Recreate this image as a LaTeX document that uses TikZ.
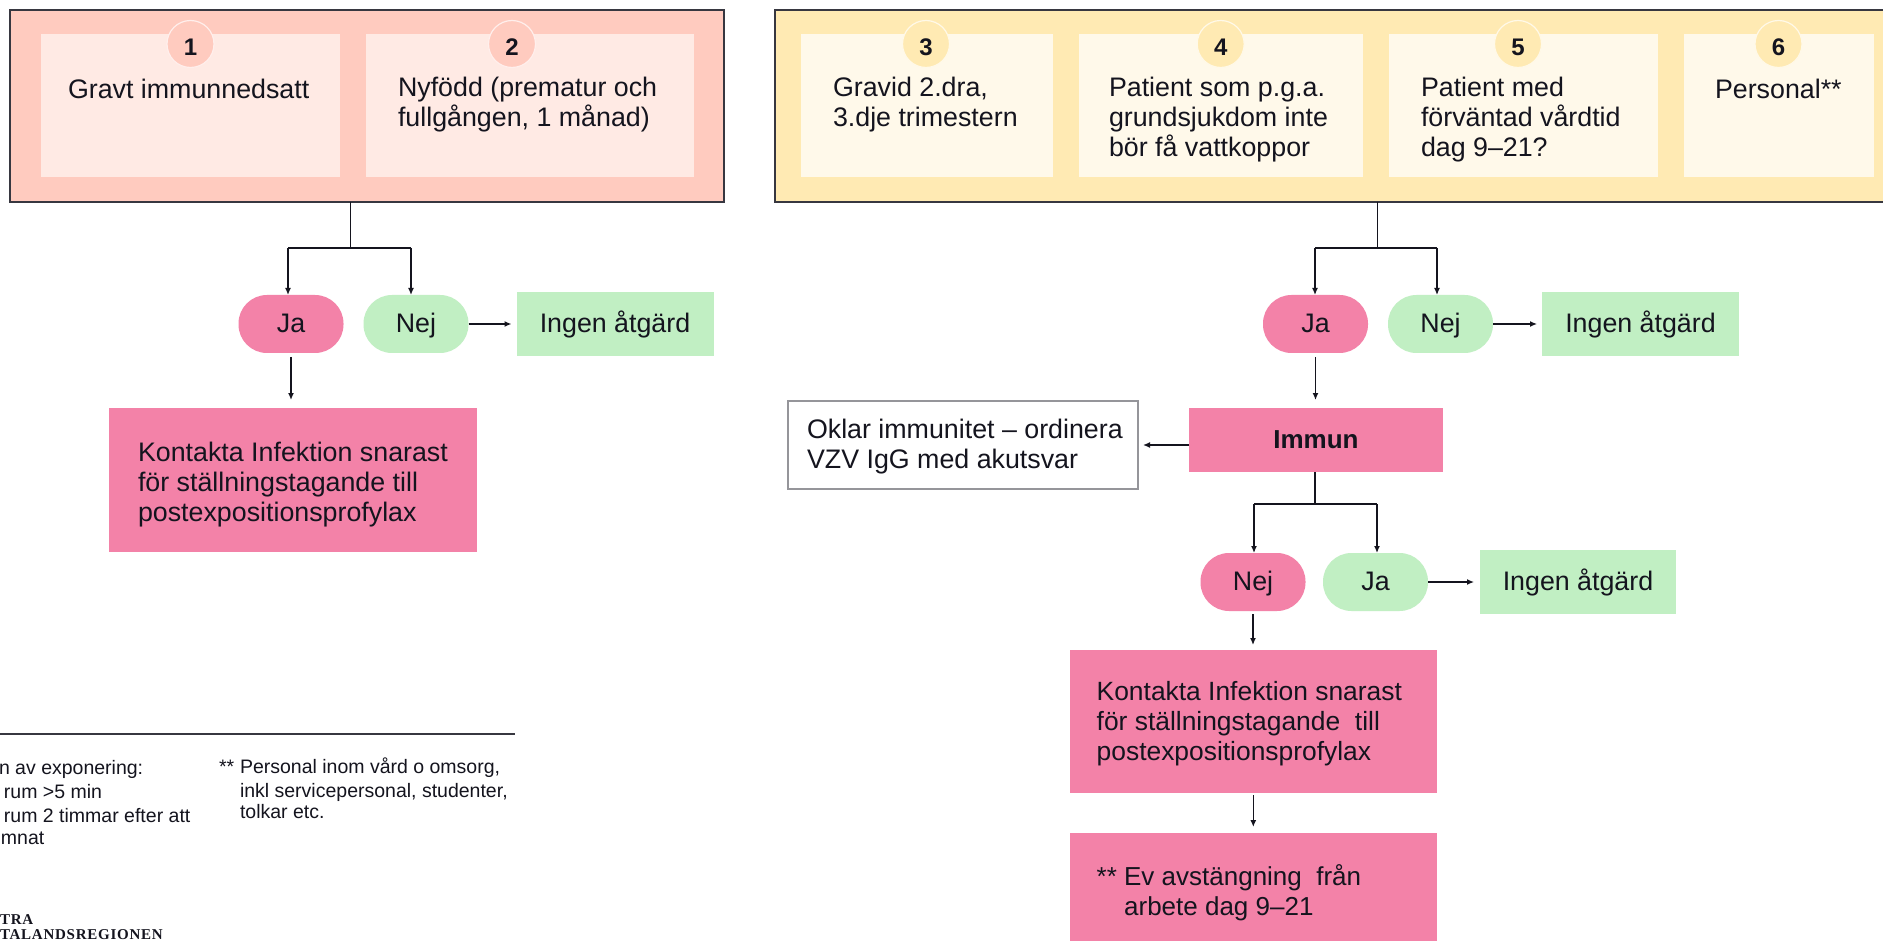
\documentclass[tikz,border=0pt]{standalone}
\usepackage{fontspec}
\setmainfont{Liberation Sans}
\newfontfamily\logofont[LetterSpace=5]{Liberation Serif}
\usetikzlibrary{arrows.meta}
\definecolor{redpanel}{HTML}{FFCBBF}
\definecolor{redcard}{HTML}{FFEAE4}
\definecolor{yellowpanel}{HTML}{FFEAB3}
\definecolor{yellowcard}{HTML}{FFF9EA}
\definecolor{alarm}{HTML}{F382A8}
\definecolor{calm}{HTML}{C1EFC3}
\definecolor{ink}{HTML}{14141E}
\tikzset{
    box/.style={inner sep=0pt, outer sep=0pt, text=ink, text height=19pt, text depth=2pt, font=\fontsize{26.8}{30}\selectfont},
    panelbox/.style={box, draw=ink!85, line width=1.5pt},
    cardbox/.style={box, minimum height=143pt},
    badge/.style={box, circle, minimum size=47pt, text height=24pt, text depth=0pt, draw=white!70!#1, line width=1.2pt, fill=#1, font=\fontsize{24}{28}\bfseries\selectfont},
    label/.style={inner sep=0pt, outer sep=0pt, text=ink, anchor=north west, align=left, font=\fontsize{26.8}{30}\selectfont, execute at begin node=\strut},
    pill/.style={box, minimum width=105pt, minimum height=58pt, rounded corners=28.5pt, fill=#1},
    action/.style={box, fill=alarm},
    noaction/.style={box, fill=calm, minimum height=64pt},
    fine/.style={inner sep=0pt, outer sep=0pt, text=ink, anchor=base west, font=\fontsize{19.5}{23}\selectfont},
    wire/.style={draw=ink, line width=1.3pt},
    flow/.style={wire, -{Latex[length=7pt,width=6pt]}},
}
\begin{document}
\begin{tikzpicture}[x=1pt, y=-1pt]
    \useasboundingbox (0,0) rectangle (1883,941);
    \fill[white] (0,0) rectangle (1883,941);

    \node[panelbox, fill=redpanel, minimum width=714pt, minimum height=192pt] (panelA) at (367,106) {};
    \node[cardbox, fill=redcard, minimum width=299pt] (card1) at (190.5,105.5) {};
    \node[cardbox, fill=redcard, minimum width=328pt] (card2) at (530,105.5) {};
    \node[badge=redpanel] (num1) at (190.5,44) {1};
    \node[badge=redpanel] (num2) at (512,44) {2};
    \node[label] (text1) at (68,77.5) {Gravt immunnedsatt};
    \node[label] (text2) at (398,77.5) {Nyfödd (prematur och\\fullgången, 1 månad)};

    \node[panelbox, fill=yellowpanel, minimum width=1130pt, minimum height=192pt] (panelB) at (1340,106) {};
    \node[cardbox, fill=yellowcard, minimum width=252.5pt] (card3) at (926.75,105.5) {};
    \node[cardbox, fill=yellowcard, minimum width=284pt] (card4) at (1220.7,105.5) {};
    \node[cardbox, fill=yellowcard, minimum width=269pt] (card5) at (1523.4,105.5) {};
    \node[cardbox, fill=yellowcard, minimum width=190pt] (card6) at (1779,105.5) {};
    \node[badge=yellowpanel] (num3) at (926,44) {3};
    \node[badge=yellowpanel] (num4) at (1220.7,44) {4};
    \node[badge=yellowpanel] (num5) at (1518,44) {5};
    \node[badge=yellowpanel] (num6) at (1778.5,44) {6};
    \node[label] (text3) at (833,77.5) {Gravid 2.dra,\\3.dje trimestern};
    \node[label] (text4) at (1109,77.5) {Patient som p.g.a.\\grundsjukdom inte\\bör få vattkoppor};
    \node[label] (text5) at (1421,77.5) {Patient med\\förväntad vårdtid\\dag 9--21?};
    \node[label] (text6) at (1715,77.5) {Personal**};

    \node[pill=alarm] (jaA) at (291,324) {Ja};
    \node[pill=calm] (nejA) at (416,324) {Nej};
    \node[noaction, minimum width=197pt] (ingenA) at (615,324) {Ingen åtgärd};
    \node[action, minimum width=368pt, minimum height=144pt] (kontaktaA) at (293,480) {};
    \node[label] (kontaktaAtext) at (138,442) {Kontakta Infektion snarast\\för ställningstagande till\\postexpositionsprofylax};

    \node[pill=alarm] (jaB) at (1315.5,324) {Ja};
    \node[pill=calm] (nejB) at (1440.5,324) {Nej};
    \node[noaction, minimum width=197pt] (ingenB) at (1640.5,324) {Ingen åtgärd};
    \node[action, minimum width=254pt, minimum height=64pt, font=\fontsize{26}{30}\bfseries\selectfont] (immun) at (1316,440) {Immun};
    \node[box, draw=ink!45, line width=1.3pt, minimum width=350pt, minimum height=88pt] (oklar) at (963,445) {};
    \node[label] (oklartext) at (807,419.5) {Oklar immunitet -- ordinera\\VZV IgG med akutsvar};
    \node[pill=alarm] (nejC) at (1253,582) {Nej};
    \node[pill=calm] (jaC) at (1375.5,582) {Ja};
    \node[noaction, minimum width=196pt] (ingenC) at (1578,582) {Ingen åtgärd};
    \node[action, minimum width=367pt, minimum height=143pt] (kontaktaB) at (1253.3,721.5) {};
    \node[label, font=\fontsize{26.4}{30}\selectfont] (kontaktaBtext) at (1096.7,681) {Kontakta Infektion snarast\\för ställningstagande\ \ till\\postexpositionsprofylax};
    \node[action, minimum width=367pt, minimum height=130pt] (avst) at (1253.3,898) {};
    \node[label, font=\fontsize{26}{30}\selectfont] (avsttext) at (1096.7,865) {** Ev avstängning\ \ från\\\phantom{** }arbete dag 9--21};

    \coordinate (forkA) at (350.5,248);
    \coordinate (forkAl) at (288,248);
    \coordinate (forkAr) at (411,248);
    \draw[wire] (panelA.south -| forkA) -- (forkA);
    \draw[wire] (forkAl) -- (forkAr);
    \draw[flow] (forkAl) -- (forkAl |- jaA.north);
    \draw[flow] (forkAr) -- (forkAr |- nejA.north);
    \draw[flow, shorten >=5pt] (nejA) -- (ingenA);
    \draw[flow, shorten <=4pt, shorten >=8pt] (jaA) -- (jaA |- kontaktaA.north);

    \coordinate (forkB) at (1377.5,248);
    \coordinate (forkBl) at (1315,248);
    \coordinate (forkBr) at (1437,248);
    \draw[wire] (panelB.south -| forkB) -- (forkB);
    \draw[wire] (forkBl) -- (forkBr);
    \draw[flow] (forkBl) -- (forkBl |- jaB.north);
    \draw[flow] (forkBr) -- (forkBr |- nejB.north);
    \draw[flow, shorten >=5pt] (nejB) -- (ingenB);
    \draw[flow, shorten <=4pt, shorten >=8pt] (jaB) -- (jaB |- immun.north);
    \draw[flow, shorten >=5pt] (immun.west |- oklar.east) -- (oklar.east);

    \coordinate (forkC) at (1315,504);
    \coordinate (forkCl) at (1254,504);
    \coordinate (forkCr) at (1377,504);
    \draw[wire] (immun.south -| forkC) -- (forkC);
    \draw[wire] (forkCl) -- (forkCr);
    \draw[flow] (forkCl) -- (forkCl |- nejC.north);
    \draw[flow] (forkCr) -- (forkCr |- jaC.north);
    \draw[flow, shorten >=6pt] (jaC) -- (ingenC);
    \draw[flow, shorten <=3pt, shorten >=5pt] (nejC) -- (nejC |- kontaktaB.north);
    \draw[flow, shorten <=2pt, shorten >=6pt] (kontaktaB.south) -- (avst.north);

    \draw[ink!85, line width=1.3pt] (0,734) -- (515,734);
    \node[fine] (note1) at (-1,774) {n av exponering:};
    \node[fine] (note2) at (4,798) {rum >5 min};
    \node[fine] (note3) at (4,822) {rum 2 timmar efter att};
    \node[fine] (note4) at (1,844) {mnat};
    \node[fine] (star1) at (219,773) {**};
    \node[fine] (star2) at (240,773) {Personal inom vård o omsorg,};
    \node[fine] (star3) at (240,797) {inkl servicepersonal, studenter,};
    \node[fine] (star4) at (240,818) {tolkar etc.};
    \node[fine, font=\fontsize{15}{15}\logofont\bfseries\selectfont] (logo1) at (0,924) {TRA};
    \node[fine, font=\fontsize{15}{15}\logofont\bfseries\selectfont] (logo2) at (0,939) {TALANDSREGIONEN};
\end{tikzpicture}
\end{document}
